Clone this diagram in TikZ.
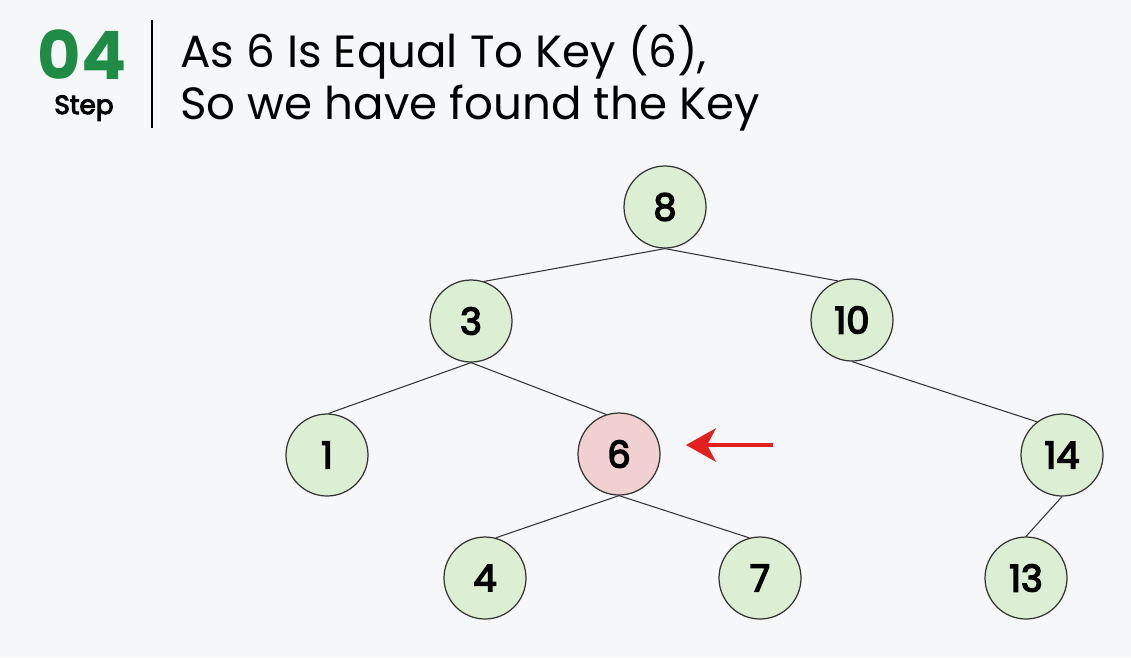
\documentclass[tikz,border=0pt]{standalone}
\usepackage{fontspec}
\setmainfont{Poppins}
\newfontfamily\keyfont[FakeBold=4]{Poppins}
\usetikzlibrary{arrows.meta}
\definecolor{paper}{HTML}{F5F7F8}
\definecolor{leaf}{HTML}{DDEFD3}
\definecolor{hit}{HTML}{F0D0D0}
\definecolor{stepgreen}{HTML}{1E8C45}
\definecolor{pointer}{HTML}{E3201E}
\begin{document}
\begin{tikzpicture}[x=0.02cm,y=-0.02cm,
  key/.style={circle,draw=black!80,line width=0.7pt,fill=leaf,minimum size=1.64cm,inner sep=0pt,font=\keyfont\fontsize{21}{24}\selectfont},
  found/.style={key,fill=hit},
  branch/.style={draw=black!80,line width=0.6pt},
  heading/.style={anchor=base west,inner sep=0pt,font=\fontsize{25.7}{30}\selectfont}]
\fill[paper] (0,0) rectangle (1131,657);
% header
\node[anchor=base,inner sep=0pt,text=stepgreen,font=\fontsize{38}{40}\selectfont\bfseries] (num) at (82,79) {04};
\node[anchor=base,inner sep=0pt,font=\keyfont\fontsize{15}{18}\selectfont] (steplbl) at (84,114) {Step};
\coordinate (bartop) at (152,20);
\coordinate (barbot) at (152,128);
\draw[line width=1.2pt] (bartop) -- (barbot);
\node[heading] (line1) at (180,67) {As 6 Is Equal To Key (6),};
\node[heading] (line2) at (180,119) {So we have found the Key};
% tree
\node[key] (k8) at (665,207) {8};
\node[key] (k3) at (471,321) {3};
\node[key] (k10) at (852,320) {10};
\node[key] (k1) at (327,455) {1};
\node[found] (k6) at (619,454) {6};
\node[key] (k14) at (1062,455) {14};
\node[key] (k4) at (485,578) {4};
\node[key] (k7) at (760,578) {7};
\node[key] (k13) at (1026,578) {13};
\draw[branch] (k8.south) -- (k3.72);
\draw[branch] (k8.south) -- (k10.110);
\draw[branch] (k3.south) -- (k1.88);
\draw[branch] (k3.south) -- (k6.108);
\draw[branch] (k10.south) -- (k14.127);
\draw[branch] (k6.south) -- (k4.75);
\draw[branch] (k6.south) -- (k7.105);
\draw[branch] (k14.south) -- (k13.90);
% pointer
\coordinate (tail) at (773,445);
\coordinate (tip) at (686,445);
\draw[pointer,line width=2.2pt,-{Stealth[length=17pt,width=19pt,inset=5pt]}] (tail) -- (tip);
\end{tikzpicture}
\end{document}
